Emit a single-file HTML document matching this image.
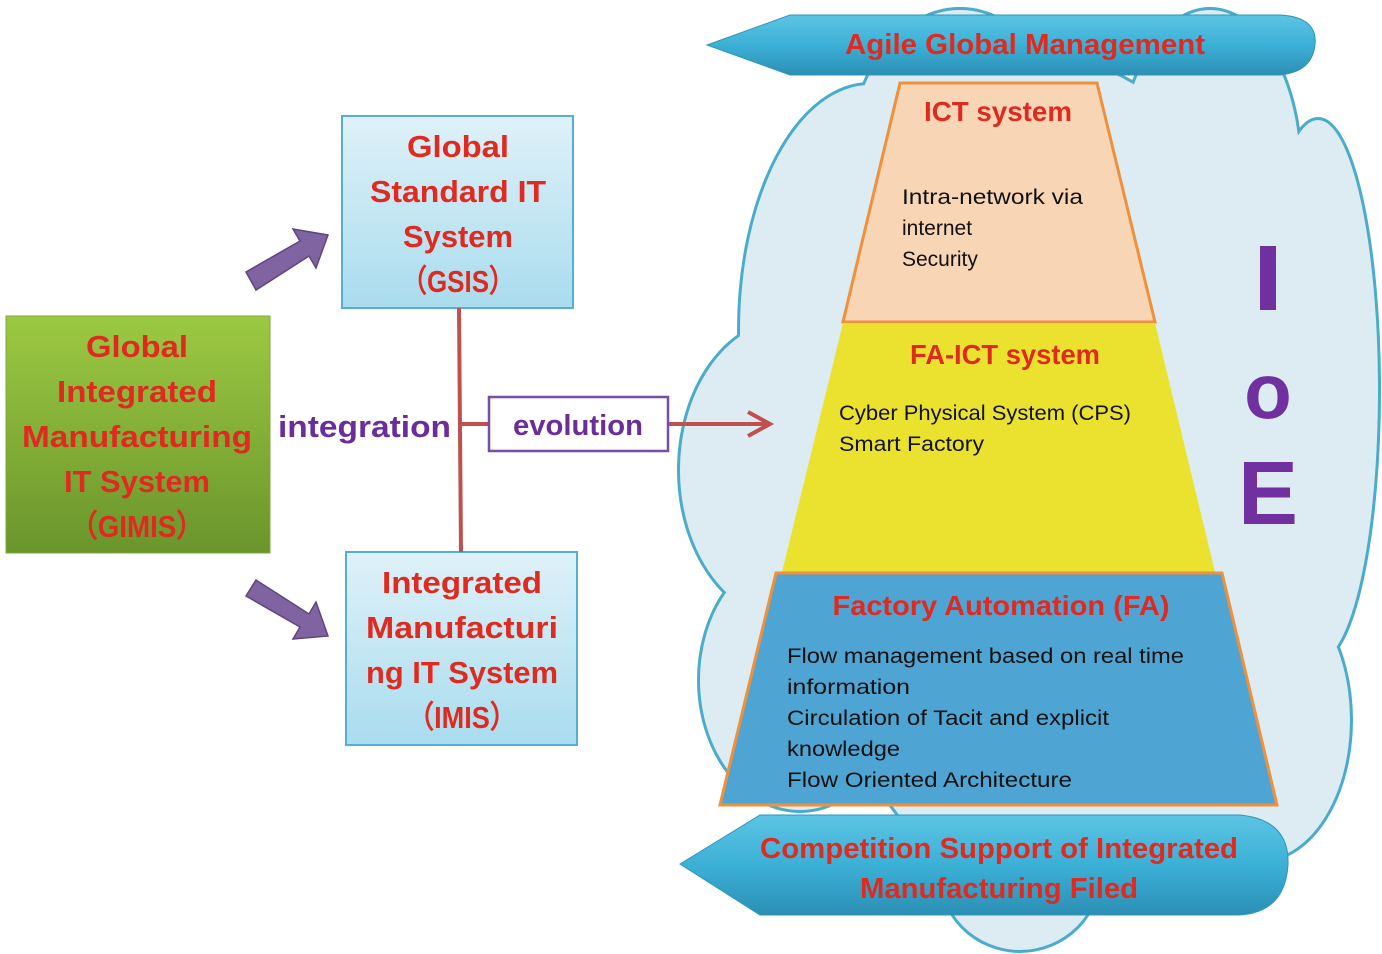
<!DOCTYPE html>
<html><head><meta charset="utf-8"><style>
html,body{margin:0;padding:0;background:#fff;}
svg{display:block;}
text{font-family:"Liberation Sans",sans-serif;}
</style></head><body>
<svg width="1382" height="954" viewBox="0 0 1382 954" xmlns="http://www.w3.org/2000/svg">
<defs>
<linearGradient id="gg" x1="0" y1="0" x2="0" y2="1"><stop offset="0" stop-color="#9cc943"/><stop offset="1" stop-color="#6a952c"/></linearGradient>
<linearGradient id="bg" x1="0" y1="0" x2="0" y2="1"><stop offset="0" stop-color="#dff1f8"/><stop offset="1" stop-color="#a9dcee"/></linearGradient>
<linearGradient id="ban" x1="0" y1="0" x2="0" y2="1"><stop offset="0" stop-color="#5cc4e4"/><stop offset="0.5" stop-color="#3cb0d6"/><stop offset="1" stop-color="#2c8fb5"/></linearGradient>
<g id="cl">
<ellipse cx="870" cy="330" rx="130" ry="245"/>
<ellipse cx="960" cy="160" rx="110" ry="150"/>
<ellipse cx="1210" cy="170" rx="90" ry="160"/>
<ellipse cx="1318" cy="390" rx="60" ry="270"/>
<ellipse cx="790" cy="470" rx="110" ry="150"/>
<ellipse cx="800" cy="680" rx="100" ry="130"/>
<ellipse cx="1260" cy="720" rx="90" ry="140"/>
<ellipse cx="1020" cy="870" rx="80" ry="80"/>
<ellipse cx="1050" cy="480" rx="250" ry="420"/>
</g>
</defs>
<!-- cloud -->
<use href="#cl" fill="#4aaccc" stroke="#4aaccc" stroke-width="6"/>
<use href="#cl" fill="#ddecf3"/>

<!-- top banner -->
<path d="M707,45 L790,15 L1280,15 Q1318,17 1315,45 Q1312,72 1280,75 L790,75 Z" fill="url(#ban)" stroke="#2f95b8" stroke-width="1"/>
<text x="1025" y="54" text-anchor="middle" font-size="29" font-weight="bold" fill="#e02a20" textLength="360" lengthAdjust="spacingAndGlyphs">Agile Global Management</text>

<!-- pyramid -->
<polygon points="900,83 1097,83 1155,322 843,322" fill="#f8d5b5" stroke="#f0903a" stroke-width="3"/>
<polygon points="843,323 1155,323 1215,572 782,572" fill="#ebe22f"/>
<polygon points="776,573 1222,573 1277,805 720,805" fill="#4ea5d3" stroke="#f0903a" stroke-width="3"/>
<text x="998" y="121" text-anchor="middle" font-size="28" font-weight="bold" fill="#e02a20" textLength="148" lengthAdjust="spacingAndGlyphs">ICT system</text>
<g font-size="21" fill="#111">
<text x="902" y="204" textLength="181" lengthAdjust="spacingAndGlyphs">Intra-network via</text>
<text x="902" y="235">internet</text>
<text x="902" y="266">Security</text>
</g>
<text x="1005" y="364" text-anchor="middle" font-size="28" font-weight="bold" fill="#e02a20" textLength="190" lengthAdjust="spacingAndGlyphs">FA-ICT system</text>
<g font-size="21" fill="#111">
<text x="839" y="420" textLength="292" lengthAdjust="spacingAndGlyphs">Cyber Physical System (CPS)</text>
<text x="839" y="451" textLength="145" lengthAdjust="spacingAndGlyphs">Smart Factory</text>
</g>
<text x="1001" y="615" text-anchor="middle" font-size="28" font-weight="bold" fill="#e02a20" textLength="337" lengthAdjust="spacingAndGlyphs">Factory Automation (FA)</text>
<g font-size="21" fill="#111">
<text x="787" y="663" textLength="397" lengthAdjust="spacingAndGlyphs">Flow management based on real time</text>
<text x="787" y="694" textLength="123" lengthAdjust="spacingAndGlyphs">information</text>
<text x="787" y="725" textLength="322" lengthAdjust="spacingAndGlyphs">Circulation of Tacit and explicit</text>
<text x="787" y="756" textLength="113" lengthAdjust="spacingAndGlyphs">knowledge</text>
<text x="787" y="787" textLength="285" lengthAdjust="spacingAndGlyphs">Flow Oriented Architecture</text>
</g>

<!-- bottom banner -->
<path d="M680,864 L760,815 L1240,815 Q1290,820 1288,865 Q1285,912 1240,915 L760,915 Z" fill="url(#ban)" stroke="#2f95b8" stroke-width="1"/>
<text x="999" y="858" text-anchor="middle" font-size="29" font-weight="bold" fill="#e02a20" textLength="478" lengthAdjust="spacingAndGlyphs">Competition Support of Integrated</text>
<text x="999" y="898" text-anchor="middle" font-size="29" font-weight="bold" fill="#e02a20" textLength="278" lengthAdjust="spacingAndGlyphs">Manufacturing Filed</text>

<!-- IoE -->
<g fill="#7030a0" font-weight="bold" text-anchor="middle">
<rect x="1260" y="246" width="16" height="64"/>
<text x="1268" y="418" font-size="78">o</text>
<text x="1268" y="524" font-size="90">E</text>
</g>

<!-- left side -->
<rect x="6" y="316" width="264" height="237" fill="url(#gg)" stroke="#7ea83a" stroke-width="1"/>
<g font-size="31" font-weight="bold" fill="#e02a20" text-anchor="middle">
<text x="137" y="357" textLength="102" lengthAdjust="spacingAndGlyphs">Global</text>
<text x="137" y="402" textLength="160" lengthAdjust="spacingAndGlyphs">Integrated</text>
<text x="137" y="447" textLength="230" lengthAdjust="spacingAndGlyphs">Manufacturing</text>
<text x="137" y="492" textLength="146" lengthAdjust="spacingAndGlyphs">IT System</text>
<text x="137" y="537" textLength="134" lengthAdjust="spacingAndGlyphs">（GIMIS）</text>
</g>

<rect x="342" y="116" width="231" height="192" fill="url(#bg)" stroke="#55aed4" stroke-width="2"/>
<g font-size="31" font-weight="bold" fill="#e02a20" text-anchor="middle">
<text x="458" y="157" textLength="102" lengthAdjust="spacingAndGlyphs">Global</text>
<text x="458" y="202" textLength="176" lengthAdjust="spacingAndGlyphs">Standard IT</text>
<text x="458" y="247" textLength="110" lengthAdjust="spacingAndGlyphs">System</text>
<text x="458" y="292" textLength="114" lengthAdjust="spacingAndGlyphs">（GSIS）</text>
</g>

<rect x="346" y="552" width="231" height="193" fill="url(#bg)" stroke="#55aed4" stroke-width="2"/>
<g font-size="31" font-weight="bold" fill="#e02a20" text-anchor="middle">
<text x="462" y="593" textLength="160" lengthAdjust="spacingAndGlyphs">Integrated</text>
<text x="462" y="638" textLength="192" lengthAdjust="spacingAndGlyphs">Manufacturi</text>
<text x="462" y="683" textLength="192" lengthAdjust="spacingAndGlyphs">ng IT System</text>
<text x="462" y="728" textLength="110" lengthAdjust="spacingAndGlyphs">（IMIS）</text>
</g>

<!-- connectors -->
<g stroke="#c0504d" stroke-width="4" fill="none">
<line x1="459" y1="308" x2="461" y2="552"/>
<line x1="459" y1="424" x2="490" y2="424"/>
<line x1="668" y1="424" x2="768" y2="424"/>
<polyline points="748,412 770,424 748,436" stroke-linejoin="miter"/>
</g>
<rect x="489" y="397" width="179" height="54" fill="#fff" stroke="#7a4ba8" stroke-width="2.5"/>
<text x="578" y="435" text-anchor="middle" font-size="29" font-weight="bold" fill="#6a2d9a" textLength="130" lengthAdjust="spacingAndGlyphs">evolution</text>
<text x="278" y="437" font-size="31" font-weight="bold" fill="#6a2d9a" textLength="173" lengthAdjust="spacingAndGlyphs">integration</text>

<!-- purple arrows -->
<g fill="#8064a2" stroke="#5e4581" stroke-width="1.5">
<polygon points="246,272 300,241 293,229 328,235 316,268 309,256 256,290"/>
<polygon points="246,596 300,627 293,639 328,636 316,602 309,614 256,580"/>
</g>
</svg>
</body></html>
